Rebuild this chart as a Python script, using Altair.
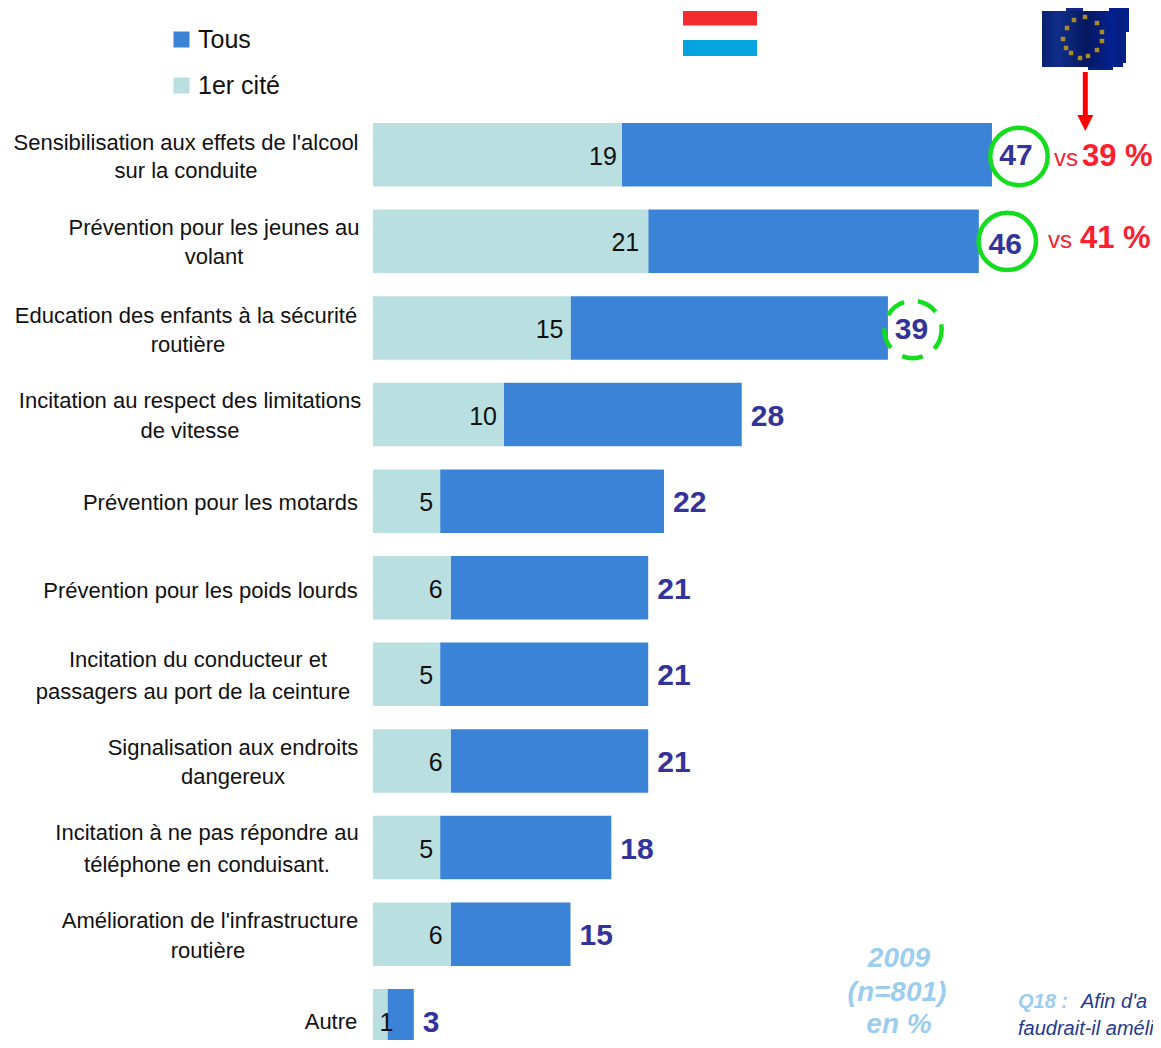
import altair as alt
import pandas as pd

W, H = 1145, 1032

# ---------- chart values ----------
categories = [
    "Sensibilisation", "Jeunes", "Enfants", "Vitesse", "Motards", "Poids lourds",
    "Ceinture", "Signalisation", "Téléphone", "Infrastructure", "Autre",
]
total_values = [47.0, 46.0, 39.1, 28.0, 22.1, 20.9, 20.9, 20.9, 18.1, 15.0, 3.1]
total_labels = ["47", "46", "39", "28", "22", "21", "21", "21", "18", "15", "3"]
first_values = [18.9, 20.9, 15.0, 9.95, 5.1, 5.9, 5.1, 5.9, 5.1, 5.9, 1.1]
first_labels = ["19", "21", "15", "10", "5", "6", "5", "6", "5", "6", "1"]
label_lines = [
    ["Sensibilisation aux effets de l'alcool", "sur la conduite"],
    ["Prévention pour les jeunes au", "volant"],
    ["Education des enfants à la sécurité", "routière"],
    ["Incitation au respect des limitations", "de vitesse"],
    ["Prévention pour les motards"],
    ["Prévention pour les poids lourds"],
    ["Incitation du conducteur et", "passagers au port de la ceinture"],
    ["Signalisation aux endroits", "dangereux"],
    ["Incitation à ne pas répondre au", "téléphone en conduisant."],
    ["Amélioration de l'infrastructure", "routière"],
    ["Autre"],
]
series_names = ["Tous", "1er cité"]

# ---------- layout (separate from the values) ----------
FONT = "Liberation Sans"
BLUE, LIGHT, NAVY, RED, GREEN = "#3A83D7", "#B9DFE1", "#333399", "#FB2030", "#14DC1E"
label_cx = [[186, 186], [214, 214], [186, 188], [190, 190], [220.5], [200.5],
            [198, 193], [233, 233], [207, 207], [210, 208], [331]]
label_dy = [[-12, 16], [-13, 16], [-12, 17], [-14, 16], [2], [3],
            [-14, 18], [-13, 16], [-15, 17], [-13, 17], [1]]
first_dx = [-5, -9, -7, -7, -7, -8, -7, -8, -7, -8, 6]

x_scale = alt.Scale(domain=[-27.71, (W + 8 - 373) / 13.17], nice=False, zero=False)
y_scale = alt.Scale(domain=categories, range=[115, 1044.5], paddingInner=0.267, paddingOuter=0)
X = lambda f: alt.X(f, type="quantitative", scale=x_scale, axis=None)
Y = alt.Y("cat:N", scale=y_scale, axis=None, sort=None)


def px(v):
    return alt.value(v - 8)


def rect(x0, x1, y0, y1, fill):
    return alt.Chart(pd.DataFrame({"a": [0]})).mark_rect(fill=fill).encode(
        x=px(x0), x2=px(x1), y=px(y0), y2=px(y1))


def note(text, x, y, size, color, bold=False, italic=False, align="left"):
    kw = {}
    if bold:
        kw["fontWeight"] = "bold"
    if italic:
        kw["fontStyle"] = "italic"
    return alt.Chart(pd.DataFrame({"a": [0]})).mark_text(
        text=text, font=FONT, fontSize=size, color=color, align=align, baseline="middle", **kw
    ).encode(x=px(x), y=px(y))


bars_df = pd.DataFrame(
    [{"cat": c, "series": "Tous", "v": t, "v0": f}
     for c, t, f in zip(categories, total_values, first_values)]
    + [{"cat": c, "series": "1er cité", "v": f, "v0": 0}
       for c, f in zip(categories, first_values)]
)
bars = alt.Chart(bars_df).mark_bar(strokeWidth=0).encode(
    x=alt.X("v:Q", scale=x_scale, axis=None, stack=None),
    x2="v0:Q",
    y=Y,
    color=alt.Color(
        "series:N",
        scale=alt.Scale(domain=series_names, range=[BLUE, LIGHT]),
        sort=None,
        legend=alt.Legend(
            orient="none", legendX=161, legendY=19, title=None, symbolType="square",
            symbolSize=256, symbolStrokeWidth=0, symbolOpacity=1,
            labelFont=FONT, labelFontSize=25, labelColor="#111111", labelOffset=4,
            rowPadding=20, padding=0,
        ),
    ),
)

layers = [bars]

for cat, lines, cxs, dys in zip(categories, label_lines, label_cx, label_dy):
    for line, cx, dy in zip(lines, cxs, dys):
        layers.append(
            alt.Chart(pd.DataFrame({"cat": [cat], "t": [line]})).mark_text(
                font=FONT, fontSize=22, color="#111111", align="center", baseline="middle", dy=dy
            ).encode(x=px(cx), y=Y, text="t:N")
        )

for cat, v, lab, dx in zip(categories, first_values, first_labels, first_dx):
    layers.append(
        alt.Chart(pd.DataFrame({"cat": [cat], "v": [v], "t": [lab]})).mark_text(
            font=FONT, fontSize=25, color="#111111", align="right", baseline="middle", dx=dx, dy=2
        ).encode(x=X("v"), y=Y, text="t:N")
    )

top_dx = [24, 26.5, 23.5]
top_dy = [1, 4, 2]
for i, (cat, v, lab) in enumerate(zip(categories, total_values, total_labels)):
    if i < 3:
        kw = dict(align="center", dx=top_dx[i], dy=top_dy[i])
    else:
        kw = dict(align="left", dx=9, dy=2)
    layers.append(
        alt.Chart(pd.DataFrame({"cat": [cat], "v": [v], "t": [lab]})).mark_text(
            font=FONT, fontSize=30, fontWeight="bold", color=NAVY, baseline="middle", **kw
        ).encode(x=X("v"), y=Y, text="t:N")
    )

ring_dx = [27, 28.5, 25]
ring_dy = [1.7, 0, 1.5]
for i in range(3):
    kw = {"strokeDash": [21, 14]} if i == 2 else {}
    layers.append(
        alt.Chart(pd.DataFrame({"cat": [categories[i]], "v": [total_values[i]]})).mark_point(
            shape="circle", size=3295, filled=False, stroke=GREEN, strokeWidth=4.5, opacity=1,
            xOffset=ring_dx[i], yOffset=ring_dy[i], **kw
        ).encode(x=X("v"), y=Y)
    )

layers += [
    note("vs", 1054, 159, 24, RED),
    note("39 %", 1082, 157, 31, RED, bold=True),
    note("vs", 1048, 241, 24, RED),
    note("41 %", 1080, 239, 31, RED, bold=True),
]

layers += [rect(683, 757, 11, 25.5, "#F32C2F"), rect(683, 757, 40, 56, "#05A3E0")]

flag_fill = alt.Gradient(
    gradient="linear", x1=0, x2=1, y1=0, y2=0,
    stops=[
        alt.GradientStop(color="#0A2070", offset=0),
        alt.GradientStop(color="#0F2E8A", offset=0.2),
        alt.GradientStop(color="#06185E", offset=0.55),
        alt.GradientStop(color="#042090", offset=0.85),
        alt.GradientStop(color="#051E80", offset=1),
    ],
)
layers += [
    rect(1066, 1083, 8, 11, "#0E2A80"),
    rect(1109, 1129, 8, 32, "#04208A"),
    rect(1123, 1126, 32, 63, "#04208A"),
    rect(1088, 1113, 67, 70, "#042088"),
    rect(1042, 1123, 11, 67, flag_fill),
]
for sx, sy in [(1085, 17), (1074, 20), (1097, 23), (1102, 32), (1067, 28), (1063, 39),
               (1102, 41), (1066, 48), (1097, 50), (1071, 53), (1088, 56), (1080, 58)]:
    layers.append(
        alt.Chart(pd.DataFrame({"a": [0]})).mark_square(size=20, color="#A98C25", opacity=1).encode(
            x=px(sx), y=px(sy))
    )

layers.append(
    alt.Chart(pd.DataFrame({"a": [0]})).mark_rule(color="#FF0000", strokeWidth=5).encode(
        x=px(1085.3), y=px(72), y2=px(116))
)
layers.append(
    alt.Chart(pd.DataFrame({"a": [0]})).mark_point(
        shape="M-1,-1L1,-1L0,1Z", size=256, filled=True, color="#FF0000", opacity=1, strokeWidth=0
    ).encode(x=px(1085.3), y=px(123))
)

SKY = "#9CCDEF"
layers += [
    note("2009", 899, 959, 28, SKY, bold=True, italic=True, align="center"),
    note("(n=801)", 897, 993, 28, SKY, bold=True, italic=True, align="center"),
    note("en %", 899, 1025, 28, SKY, bold=True, italic=True, align="center"),
    note("Q18 :", 1018, 1002, 20, SKY, bold=True, italic=True),
    note("Afin d'a", 1081, 1002, 20, "#1F3A8F", italic=True),
    note("faudrait-il améli", 1018, 1029, 20, "#1F3A8F", italic=True),
]

chart = alt.layer(*layers).properties(
    width=W, height=H, padding=0,
    autosize=alt.AutoSizeParams(type="none"),
    background="white",
).configure_view(stroke=None)

chart.save("out.html", embed_options={"renderer": "svg", "actions": False})
